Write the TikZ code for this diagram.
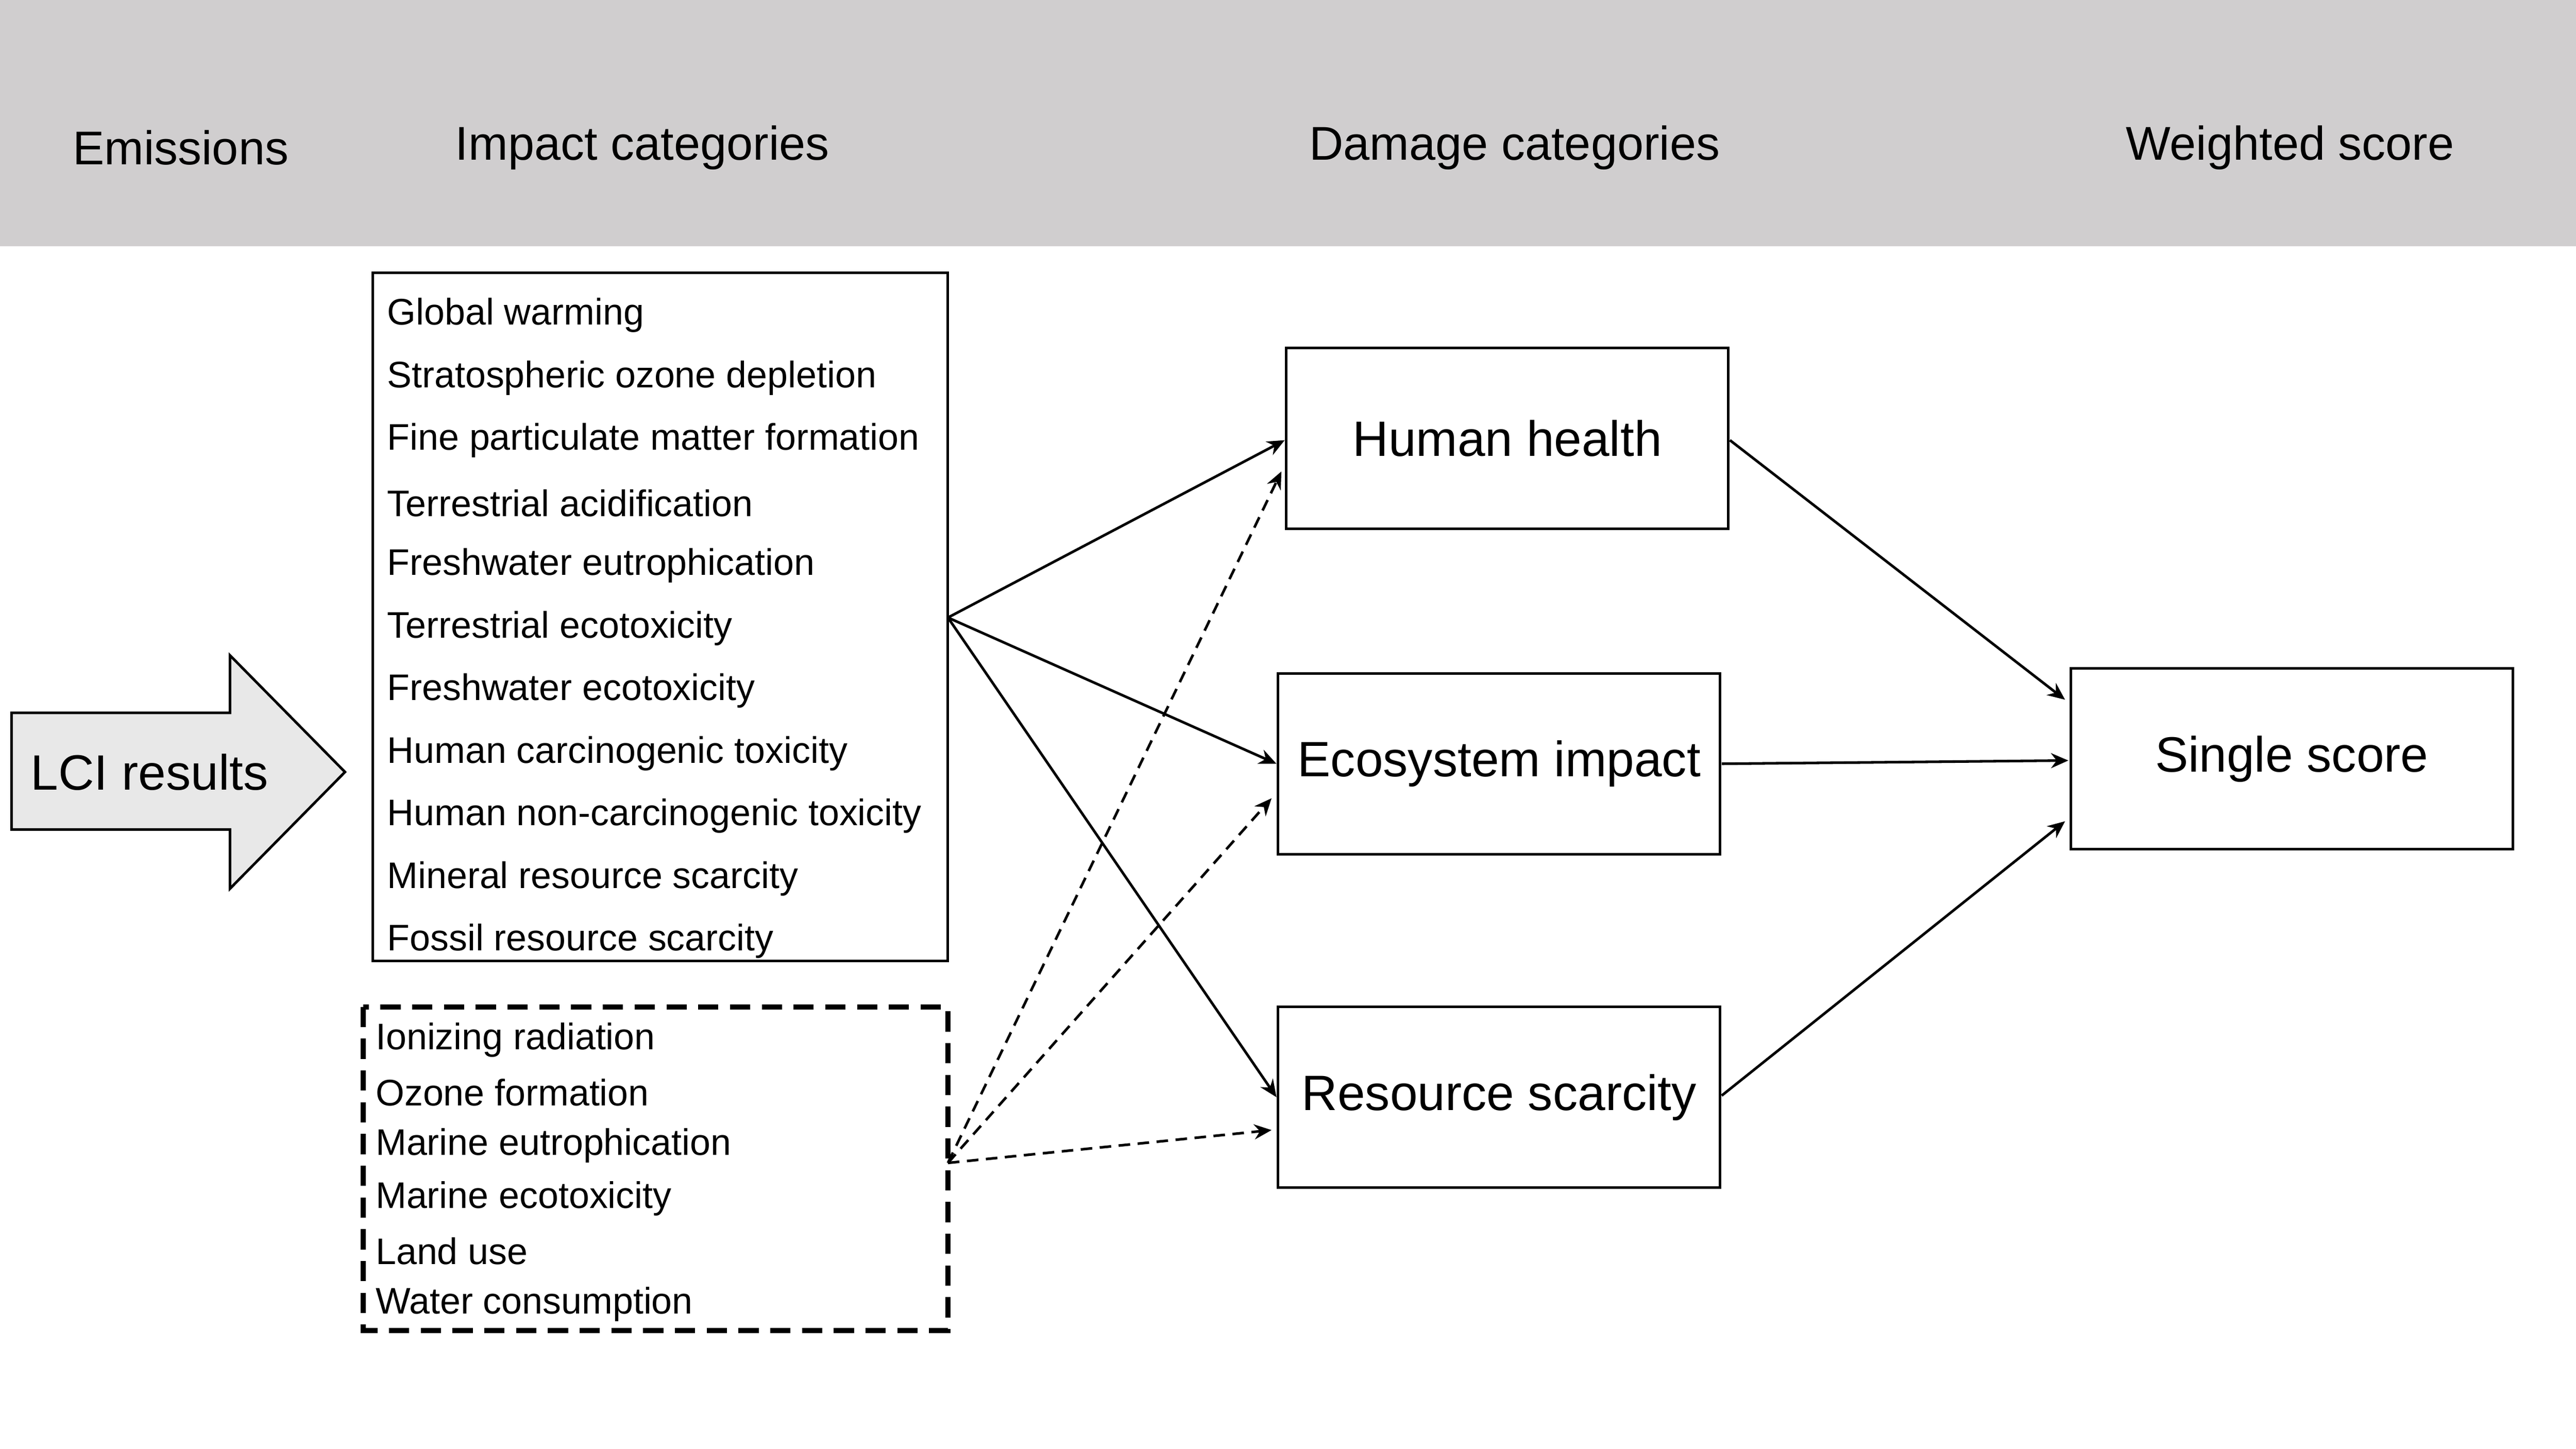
\documentclass[tikz,border=0pt]{standalone}
\usepackage{fontspec}
\setmainfont{Liberation Sans}
\usetikzlibrary{arrows.meta}
\definecolor{hdr}{RGB}{208,206,207}
\definecolor{arr}{RGB}{232,232,232}
\begin{document}
\begin{tikzpicture}[x=0.01cm,y=-0.01cm,
  hd/.style={font=\fontsize{8.2pt}{9pt}\selectfont,anchor=center},
  li/.style={font=\fontsize{6.4pt}{7pt}\selectfont,anchor=west,inner sep=0},
  bx/.style={draw,line width=0.45pt,minimum width=2.69cm,minimum height=1.1cm,font=\fontsize{8.6pt}{10pt}\selectfont},
  sa/.style={-{Stealth[length=3pt,width=2.6pt]},line width=0.45pt},
  da/.style={sa,dash pattern=on 2pt off 1.3pt}]
\useasboundingbox (0,0) rectangle (1568,882);
\fill[hdr] (0,0) rectangle (1568,150);
\node[hd] (h1) at (110,90) {Emissions};
\node[hd] (h2) at (391,90) {Impact categories};
\node[hd] (h3) at (922,90) {Damage categories};
\node[hd] (h4) at (1394,90) {Weighted score};
% impact box
\draw[line width=0.45pt] (227,166) rectangle (577,585);
\foreach \t [count=\i from 0] in {Global warming,Stratospheric ozone depletion,Fine particulate matter formation,Terrestrial acidification,Freshwater eutrophication,Terrestrial ecotoxicity,Freshwater ecotoxicity,Human carcinogenic toxicity,Human non-carcinogenic toxicity,Mineral resource scarcity,Fossil resource scarcity}
  \node[li] (l\i) at (235,{192+38.1*\i}) {\t};
\draw[line width=0.9pt,dash pattern=on 3.5pt off 2pt] (221,613) rectangle (577,810);
\foreach \t [count=\i from 0] in {Ionizing radiation,Ozone formation,Marine eutrophication,Marine ecotoxicity,Land use,Water consumption}
  \node[li] (m\i) at (228,{633+32.2*\i}) {\t};
% LCI arrow
\draw[fill=arr,line width=0.45pt] (7,434) -- (140,434) -- (140,399) -- (210,470) -- (140,541) -- (140,505) -- (7,505) -- cycle;
\node[font=\fontsize{8.6pt}{10pt}\selectfont] (lci) at (91,470) {LCI results};
% boxes
\node[bx] (hh) at (917.5,267) {Human health};
\node[bx] (eco) at (912.5,465) {Ecosystem impact};
\node[bx] (rs) at (912.5,668) {Resource scarcity};
\node[bx] (ss) at (1395,462) {Single score};
\coordinate (s) at (577,376);
\coordinate (d) at (577,708);
\draw[sa] (s) -- (782,268);
\draw[sa] (s) -- (777,465);
\draw[sa] (s) -- (777,668);
\draw[da] (d) -- (780,287);
\draw[da] (d) -- (774,486);
\draw[da] (d) -- (774,688);
\draw[sa] (1053,268) -- (1257,426);
\draw[sa] (1048,465) -- (1259,463);
\draw[sa] (1048,667) -- (1257,500);
\end{tikzpicture}
\end{document}
